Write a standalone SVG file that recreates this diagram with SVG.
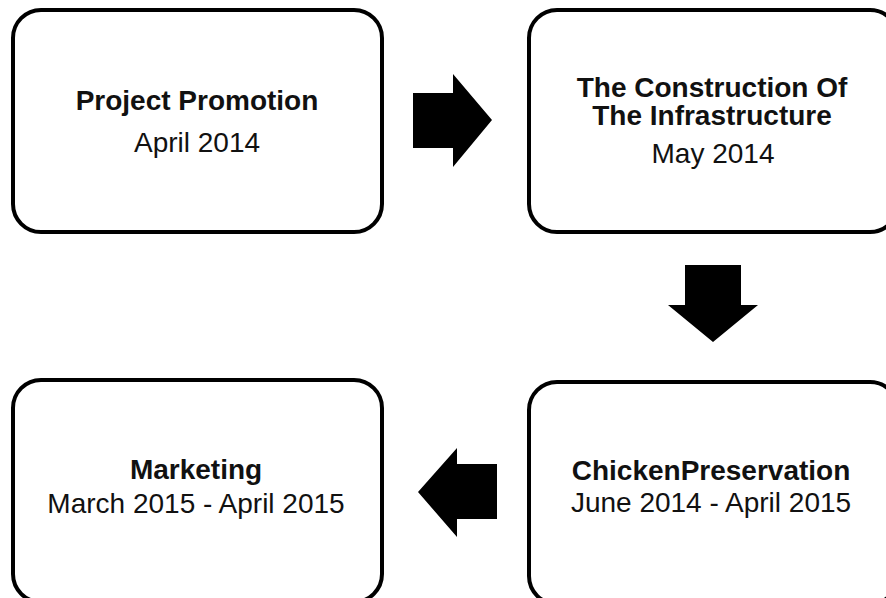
<svg xmlns="http://www.w3.org/2000/svg" width="886" height="598" viewBox="0 0 886 598">
<defs>
<style>
.box{fill:#fff;stroke:#000;stroke-width:4}
.arrow{fill:#000}
.t{font-family:"Liberation Sans",Arial,sans-serif;font-size:28px;fill:#111;text-anchor:middle}
.b{font-weight:bold}
</style>
</defs>
<rect width="886" height="598" fill="#fff"/>
<g id="connectors">
<polygon class="arrow" points="413,93 453,93 453,74 492,120 453,167 453,148 413,148"/>
<polygon class="arrow" points="685,265 741,265 741,305 758,305 713,342 668,305 685,305"/>
<polygon class="arrow" points="497,464 457,464 457,448 418,492 457,537 457,519 497,519"/>
</g>
<g id="node-project-promotion">
<rect class="box" x="13" y="10" width="369" height="222" rx="28"/>
<text class="t b" x="197" y="110">Project Promotion</text>
<text class="t" x="197" y="152">April 2014</text>
</g>
<g id="node-construction">
<rect class="box" x="529" y="10" width="369" height="222" rx="28"/>
<text class="t b" x="712" y="97">The Construction Of</text>
<text class="t b" x="712" y="125">The Infrastructure</text>
<text class="t" x="713" y="163">May 2014</text>
</g>
<g id="node-chicken-preservation">
<rect class="box" x="529" y="382" width="369" height="222" rx="28"/>
<text class="t b" x="711" y="480">ChickenPreservation</text>
<text class="t" x="711" y="512">June 2014 - April 2015</text>
</g>
<g id="node-marketing">
<rect class="box" x="13" y="380" width="369" height="222" rx="28"/>
<text class="t b" x="196" y="479">Marketing</text>
<text class="t" x="196" y="513">March 2015 - April 2015</text>
</g>
</svg>
